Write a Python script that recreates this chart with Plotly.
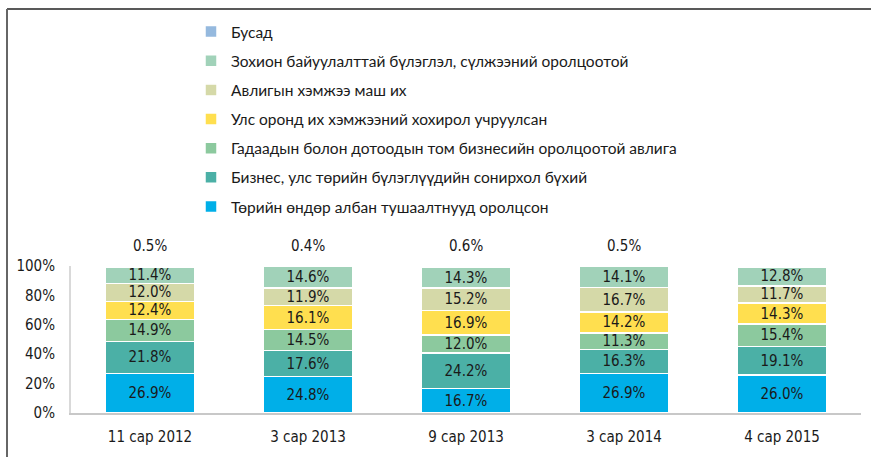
import plotly.graph_objects as go

categories = ["11 сар 2012", "3 сар 2013", "9 сар 2013", "3 сар 2014", "4 сар 2015"]

series_names = [
    "Төрийн өндөр албан тушаалтнууд оролцсон",
    "Бизнес, улс төрийн бүлэглүүдийн сонирхол бүхий",
    "Гадаадын болон дотоодын том бизнесийн оролцоотой авлига",
    "Улс оронд их хэмжээний хохирол учруулсан",
    "Авлигын хэмжээ маш их",
    "Зохион байуулалттай бүлэглэл, сүлжээний оролцоотой",
    "Бусад",
]

v_torin = [26.9, 24.8, 16.7, 26.9, 26.0]
v_biznes = [21.8, 17.6, 24.2, 16.3, 19.1]
v_gadaad = [14.9, 14.5, 12.0, 11.3, 15.4]
v_uls = [12.4, 16.1, 16.9, 14.2, 14.3]
v_avlig = [12.0, 11.9, 15.2, 16.7, 11.7]
v_zohion = [11.4, 14.6, 14.3, 14.1, 12.8]
v_busad = [0.5, 0.4, 0.6, 0.5, 0.8]

series_values = [v_torin, v_biznes, v_gadaad, v_uls, v_avlig, v_zohion, v_busad]
colors = ["#00AFE8", "#4BB0A6", "#8CC99E", "#FFDF4F", "#D5D9A8", "#A1D2B9", "#95B9DE"]

y_tickvals = [0, 20, 40, 60, 80, 100]
y_ticktext = ["0%", "20%", "40%", "60%", "80%", "100%"]

NARROW = "Liberation Sans Narrow, Arial Narrow, DejaVu Sans Condensed, sans-serif"
LEG = "Lato, Carlito, Calibri, Noto Sans, sans-serif"

fig = go.Figure()
n = len(series_names)
for i, (name, vals, col) in enumerate(zip(series_names, series_values, colors)):
    is_busad = i == n - 1
    fig.add_trace(go.Bar(
        x=categories, y=vals, name=name,
        marker=dict(color=col, line=dict(color="white", width=1.5)),
        text=None if is_busad else [f"{v:.1f}%" for v in vals],
        textposition="inside", insidetextanchor="middle", textangle=0,
        constraintext="none",
        textfont=dict(family=NARROW, size=15, color="#1a1a1a"),
        legendgroup=f"g{i}", legendrank=1000 - i,
        hoverinfo="skip",
    ))

totals = [sum(s[j] for s in series_values) for j in range(len(categories))]
for j, c in enumerate(categories):
    fig.add_annotation(x=c, y=totals[j], text=f"{v_busad[j]:.1f}%", showarrow=False,
                       yanchor="bottom", yshift=9,
                       font=dict(family=NARROW, size=15, color="#1a1a1a"))

# frame lines
L, R, T, B = 71, 10, 266, 44
W, H = 871, 457
pw, ph = W - L - R, H - T - B
def px(x):
    return (x - L) / pw
def py(y):
    return (H - B - y) / ph
fig.add_shape(type="line", xref="paper", yref="paper", x0=px(7), x1=px(871), y0=py(9), y1=py(9),
              line=dict(color="#222222", width=1.5))
fig.add_shape(type="line", xref="paper", yref="paper", x0=px(7), x1=px(7), y0=py(9), y1=py(457),
              line=dict(color="#666666", width=2))

fig.update_layout(
    width=W, height=H,
    margin=dict(l=L, r=R, t=T, b=B, pad=0, autoexpand=False),
    barmode="stack", bargap=0.43,
    plot_bgcolor="white", paper_bgcolor="white",
    showlegend=True,
    legend=dict(traceorder="grouped", tracegroupgap=6,
                x=px(191), xanchor="left", y=py(15), yanchor="top",
                font=dict(family=LEG, size=15.5, color="#1a1a1a"),
                itemwidth=30, bgcolor="rgba(0,0,0,0)", maxheight=400),
    xaxis=dict(range=[-0.5, 4.5], showline=True, linecolor="#C8C8C8", linewidth=2,
               ticks="", tickfont=dict(family=NARROW, size=15, color="#1a1a1a"),
               ticklabelstandoff=9),
    yaxis=dict(range=[0, 100], tickvals=y_tickvals, ticktext=y_ticktext,
               showline=True, linecolor="#D9D9D9", linewidth=2, showgrid=False,
               zeroline=False, ticks="", ticklabelstandoff=11,
               tickfont=dict(family=NARROW, size=15, color="#1a1a1a")),
)

fig.write_html("out.html", config={"displayModeBar": False},
               post_script="document.body.style.margin='0';document.body.style.overflow='hidden';")
